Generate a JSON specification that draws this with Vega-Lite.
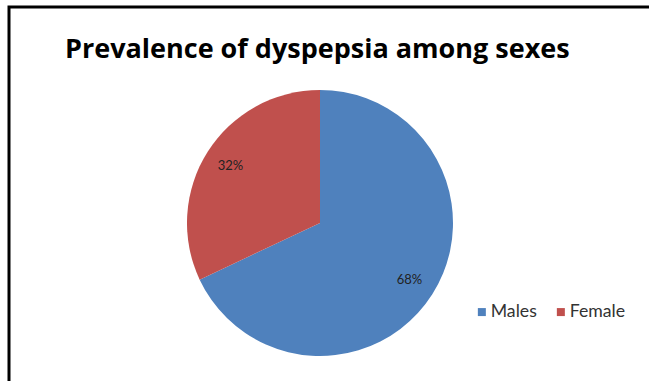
{
  "$schema": "https://vega.github.io/schema/vega-lite/v6.json",
  "width": 640,
  "height": 374,
  "autosize": "none",
  "padding": {"left": 9, "top": 7, "right": 0, "bottom": 0},
  "background": "white",
  "view": {"stroke": "#000000", "strokeWidth": 3, "strokeDash": [640, 1014, 374], "strokeCap": "square"},
  "title": {
    "text": "Prevalence of dyspepsia among sexes",
    "anchor": "start",
    "frame": "group",
    "font": "Open Sans",
    "fontSize": 27,
    "fontWeight": "bold",
    "color": "#000000",
    "offset": 0,
    "dx": 56,
    "dy": 78,
    "baseline": "alphabetic"
  },
  "data": {
    "values": [
      {"sex": "Males", "value": 68, "label": "68%"},
      {"sex": "Female", "value": 32, "label": "32%"}
    ]
  },
  "encoding": {
    "theta": {"field": "value", "type": "quantitative", "stack": true},
    "order": {"field": "value", "type": "quantitative", "sort": "descending"},
    "color": {
      "field": "sex",
      "type": "nominal",
      "scale": {"domain": ["Males", "Female"], "range": ["#4F81BD", "#C0504D"]},
      "legend": {
        "orient": "none",
        "legendX": 464,
        "legendY": 296,
        "direction": "horizontal",
        "title": null,
        "symbolType": "square",
        "symbolSize": 64,
        "symbolStrokeWidth": 0,
        "labelFont": "Lato",
        "labelFontSize": 17.7,
        "labelColor": "#333333",
        "columnPadding": 15,
        "labelOffset": 0
      }
    }
  },
  "layer": [
    {"mark": {"type": "arc", "outerRadius": 133, "xOffset": -9, "yOffset": 29}},
    {
      "mark": {"type": "text", "radius": 106, "xOffset": -9, "yOffset": 29, "font": "Lato", "fontSize": 13},
      "encoding": {"text": {"field": "label"}, "color": {"value": "#222222"}}
    }
  ]
}
